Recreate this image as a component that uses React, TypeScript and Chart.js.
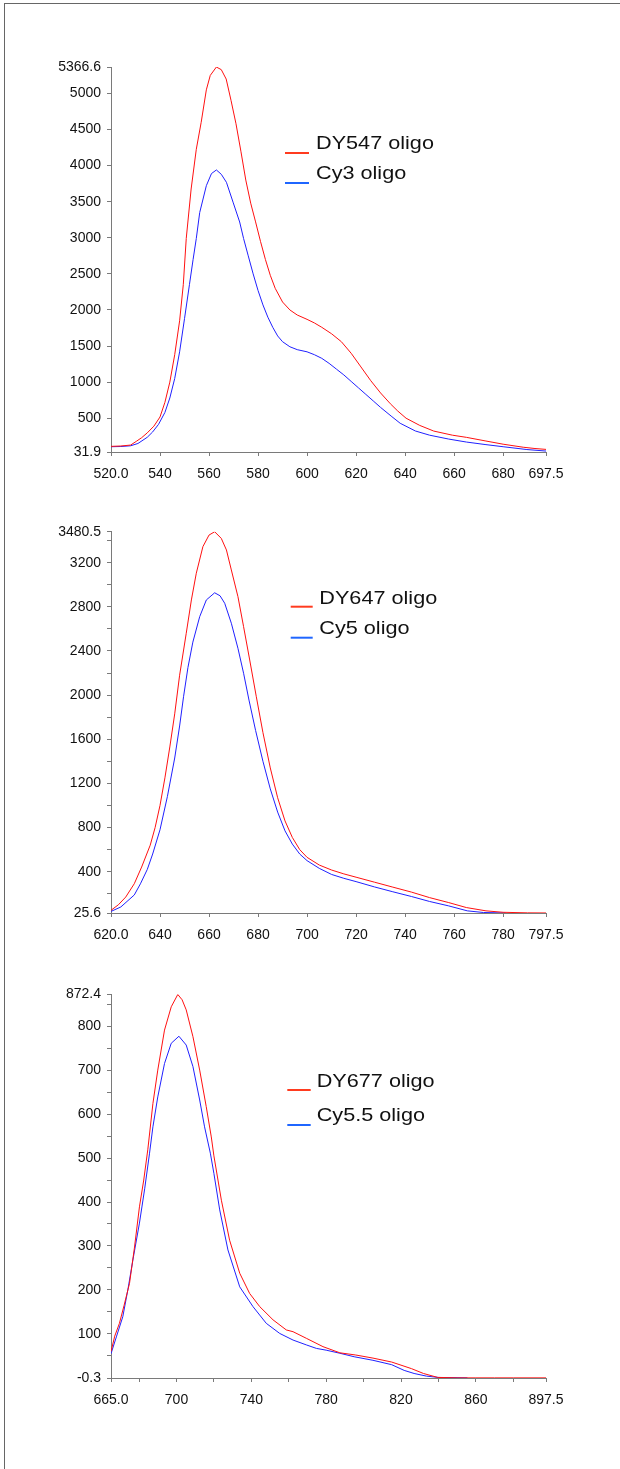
import React, { useEffect, useRef } from 'react';
import { Chart, registerables } from 'chart.js';

Chart.register(...registerables);

// ---------- Panel 1: DY547 / Cy3 ----------
const dy547Wavelengths = [520, 524, 528, 530.3, 532.5, 534.8, 537.5, 540, 542, 544, 546, 548, 549.5, 550.7, 552.7, 554.8, 556.8, 558.9, 560.5, 563, 565, 567, 569, 571, 573, 575, 577, 579, 581, 583, 585, 587, 590, 593, 596, 600, 603, 606, 610, 614, 618, 622, 626, 630, 634, 637, 640.4, 646, 651.7, 659.3, 665, 673, 680, 688.2, 693, 697.5];
const dy547Values = [110, 115, 128, 179, 230, 297, 390, 517, 720, 1000, 1380, 1850, 2350, 2990, 3676, 4226, 4600, 5050, 5250, 5366, 5330, 5200, 4900, 4580, 4200, 3800, 3480, 3220, 2950, 2700, 2480, 2300, 2110, 2000, 1930, 1870, 1820, 1760, 1670, 1560, 1400, 1210, 1020, 850, 700, 600, 500, 400, 322, 265, 235, 184, 140, 98, 80, 68];
const cy3Wavelengths = [520, 524, 528, 531, 534.8, 537, 539.4, 542, 544, 546, 548, 550, 552, 553.5, 554.8, 556.2, 558.9, 561, 563, 565, 567.1, 569.8, 572.5, 574.1, 576, 578, 580, 582, 584, 586, 588, 590, 593, 596, 600, 603, 606, 609, 612, 615, 618, 621, 624, 627, 630, 634.3, 638, 644.2, 650, 657.8, 665, 673, 680, 689.7, 697.5];
const cy3Values = [105, 108, 118, 150, 236, 310, 415, 580, 780, 1050, 1420, 1880, 2350, 2700, 2990, 3350, 3722, 3890, 3940, 3880, 3769, 3494, 3219, 2990, 2750, 2500, 2270, 2070, 1900, 1760, 1640, 1560, 1490, 1450, 1420, 1380, 1330, 1260, 1180, 1100, 1010, 920, 830, 740, 650, 530, 430, 323, 265, 211, 170, 134, 105, 66, 45];
const panel1XTicks = [520, 540, 560, 580, 600, 620, 640, 660, 680, 697.5];
const panel1XLabels = ['520.0', '540', '560', '580', '600', '620', '640', '660', '680', '697.5'];
const panel1YTicks = [31.9, 500, 1000, 1500, 2000, 2500, 3000, 3500, 4000, 4500, 5000, 5366.6];
const panel1YLabels = ['31.9', '500', '1000', '1500', '2000', '2500', '3000', '3500', '4000', '4500', '5000', '5366.6'];
const panel1Legend = ['DY547 oligo', 'Cy3 oligo'];

// ---------- Panel 2: DY647 / Cy5 ----------
const dy647Wavelengths = [620, 623, 626, 629.5, 632.5, 636, 638, 640, 642, 644, 646, 648, 650.7, 652.8, 654.8, 657.5, 660, 662.3, 665, 667.1, 669.1, 671.8, 674.1, 676.6, 679.3, 682, 685, 688, 691, 694, 697, 700, 705, 710, 715, 720, 727.5, 735, 742.6, 750, 757.8, 765, 773, 780, 790, 797.5];
const dy647Values = [50, 100, 170, 291, 442, 640, 800, 1000, 1250, 1530, 1830, 2180, 2560, 2862, 3104, 3345, 3450, 3480, 3420, 3315, 3134, 2892, 2620, 2318, 1985, 1660, 1340, 1070, 860, 710, 600, 530, 460, 415, 380, 350, 305, 260, 215, 165, 120, 75, 45, 32, 27, 26];
const cy5Wavelengths = [620, 624, 629.5, 632, 634.8, 637, 640, 643, 646, 648, 649.6, 651.4, 653.4, 656.2, 658.9, 662.3, 664.5, 666.4, 669.1, 671.8, 674.1, 676.3, 679, 682, 685, 688, 691, 694, 697, 700, 705, 710, 715, 720, 727.5, 735, 742.6, 750, 757.8, 765.4, 772, 781];
const cy5Values = [40, 80, 189, 290, 420, 560, 780, 1080, 1430, 1720, 1985, 2250, 2480, 2711, 2862, 2927, 2900, 2832, 2651, 2424, 2198, 1955, 1680, 1400, 1150, 940, 770, 650, 560, 500, 430, 375, 340, 310, 262, 218, 175, 130, 90, 45, 30, 26];
const panel2XTicks = [620, 640, 660, 680, 700, 720, 740, 760, 780, 797.5];
const panel2XLabels = ['620.0', '640', '660', '680', '700', '720', '740', '760', '780', '797.5'];
const panel2YTicks = [25.6, 200, 400, 600, 800, 1000, 1200, 1400, 1600, 1800, 2000, 2200, 2400, 2600, 2800, 3000, 3200, 3400, 3480.5];
const panel2YLabels = ['25.6', '', '400', '', '800', '', '1200', '', '1600', '', '2000', '', '2400', '', '2800', '', '3200', '', '3480.5'];
const panel2Legend = ['DY647 oligo', 'Cy5 oligo'];

// ---------- Panel 3: DY677 / Cy5.5 ----------
const dy677Wavelengths = [665, 667, 669.5, 672, 674.9, 677.5, 680.2, 682.5, 684.7, 687.4, 690, 693.6, 697.2, 700.7, 703, 705.2, 708.8, 712.4, 715.9, 718.6, 720, 724, 728.4, 733.8, 739.1, 744.5, 751.6, 758.7, 762.3, 769.4, 778.3, 787.3, 795.8, 805, 815, 825.6, 832, 839.6, 850, 860, 870, 880, 897.5];
const dy677Values = [60, 95, 124, 165, 215, 295, 389, 450, 520, 624, 700, 791, 844, 872, 860, 837, 776, 700, 617, 548, 505, 404, 313, 238, 192, 162, 132, 109, 105, 90, 71, 57, 52, 45, 36, 21, 10, 1, 0, 0, 0, 0, 0];
const cy55Wavelengths = [665, 668, 671.3, 674, 676.7, 680.2, 683, 685.6, 687.4, 690, 693.6, 697.2, 701.3, 705.2, 708.8, 712.4, 715, 718.1, 720, 723.1, 727.5, 733.8, 740.9, 748, 755.2, 762.3, 769.4, 774.8, 780, 787.3, 795, 805, 815, 821.7, 827, 833.6, 840, 855.5];
const cy55Values = [55, 95, 139, 200, 268, 352, 430, 511, 571, 639, 715, 761, 777, 757, 708, 632, 571, 511, 465, 382, 291, 207, 162, 124, 101, 86, 75, 67, 63, 56, 48, 40, 30, 17, 10, 4, 1, 0];
const panel3XTicks = [665, 680, 700, 720, 740, 760, 780, 800, 820, 840, 860, 880, 897.5];
const panel3XLabels = ['665.0', '', '700', '', '740', '', '780', '', '820', '', '860', '', '897.5'];
const panel3YTicks = [-0.3, 50, 100, 150, 200, 250, 300, 350, 400, 450, 500, 550, 600, 650, 700, 750, 800, 850, 872.4];
const panel3YLabels = ['-0.3', '', '100', '', '200', '', '300', '', '400', '', '500', '', '600', '', '700', '', '800', '', '872.4'];
const panel3Legend = ['DY677 oligo', 'Cy5.5 oligo'];

const RED = '#ff1010';
const BLUE = '#2020ff';
const LEGEND_RED = '#ff3b1f';
const LEGEND_BLUE = '#1f66ff';
const AXIS_COLOR = '#7a7a7a';
const FONT = "'Liberation Sans', Arial, sans-serif";

type Series = { wl: number[]; vals: number[]; color: string };
type LegendGeom = { x1: number; x2: number; textX: number; lineY: number[]; baseY: number[] };

type PanelProps = {
  top: number;
  height: number;
  padTop: number;
  padBottom: number;
  xTicks: number[];
  xLabels: string[];
  yTicks: number[];
  yLabels: string[];
  series: Series[];
  legendLabels: string[];
  legend: LegendGeom;
};

const toPoints = (wl: number[], vals: number[]) => wl.map((x, i) => ({ x, y: vals[i] }));

function Panel(props: PanelProps) {
  const ref = useRef<HTMLCanvasElement | null>(null);
  useEffect(() => {
    const canvas = ref.current;
    if (!canvas) return;
    const { xTicks, xLabels, yTicks, yLabels, series, legendLabels, legend, top } = props;
    const legendPlugin = {
      id: 'customLegend',
      afterDraw(chart: any) {
        const ctx = chart.ctx;
        const colors = [LEGEND_RED, LEGEND_BLUE];
        ctx.save();
        legendLabels.forEach((label, i) => {
          ctx.strokeStyle = colors[i];
          ctx.lineWidth = 2;
          ctx.beginPath();
          ctx.moveTo(legend.x1, legend.lineY[i] - top);
          ctx.lineTo(legend.x2, legend.lineY[i] - top);
          ctx.stroke();
          ctx.save();
          ctx.translate(legend.textX, legend.baseY[i] - top);
          ctx.scale(1.17, 1);
          ctx.font = `18.5px ${FONT}`;
          ctx.fillStyle = '#111';
          ctx.textBaseline = 'alphabetic';
          ctx.textAlign = 'left';
          ctx.fillText(label, 0, 0);
          ctx.restore();
        });
        ctx.restore();
      },
    };
    const tickFont = { family: FONT, size: 14 };
    const chart = new Chart(canvas, {
      type: 'line',
      data: {
        datasets: series.map((s, i) => ({
          label: legendLabels[i],
          data: toPoints(s.wl, s.vals),
          borderColor: s.color,
          borderWidth: 1,
          pointRadius: 0,
          tension: 0,
          fill: false,
        })),
      },
      options: {
        responsive: false,
        animation: false,
        events: [],
        layout: { padding: { left: 0, right: 620 - 546, top: props.padTop, bottom: props.padBottom } },
        plugins: { legend: { display: false }, tooltip: { enabled: false } },
        scales: {
          x: {
            type: 'linear',
            min: xTicks[0],
            max: xTicks[xTicks.length - 1],
            afterBuildTicks: (scale: any) => {
              scale.ticks = xTicks.map((v) => ({ value: v }));
            },
            afterFit: (scale: any) => {
              scale.height = 32;
            },
            ticks: {
              autoSkip: false,
              maxRotation: 0,
              padding: 10,
              color: '#111',
              font: tickFont,
              callback: (_v: any, i: number) => xLabels[i],
            },
            grid: { drawOnChartArea: false, drawTicks: true, tickLength: 4, color: AXIS_COLOR },
            border: { display: true, color: AXIS_COLOR, width: 1 },
          },
          y: {
            type: 'linear',
            min: yTicks[0],
            max: yTicks[yTicks.length - 1],
            afterBuildTicks: (scale: any) => {
              scale.ticks = yTicks.map((v) => ({ value: v }));
            },
            afterFit: (scale: any) => {
              scale.width = 111;
            },
            ticks: {
              autoSkip: false,
              padding: 6,
              color: '#111',
              font: tickFont,
              callback: (_v: any, i: number) => yLabels[i],
            },
            grid: { drawOnChartArea: false, drawTicks: true, tickLength: 4, color: AXIS_COLOR },
            border: { display: true, color: AXIS_COLOR, width: 1 },
          },
        },
      },
      plugins: [legendPlugin],
    } as any);
    return () => chart.destroy();
  }, []);
  return (
    <canvas
      ref={ref}
      width={620}
      height={props.height}
      style={{ position: 'absolute', left: 0, top: props.top, width: 620, height: props.height }}
    />
  );
}

export default function App() {
  return (
    <div
      style={{
        position: 'absolute',
        left: 0,
        top: 0,
        width: 620,
        height: 1469,
        overflow: 'hidden',
        background: '#fff',
      }}
    >
      <div
        style={{
          position: 'absolute',
          left: 4,
          top: 3,
          width: 700,
          height: 1600,
          borderTop: '1px solid #666',
          borderLeft: '1px solid #666',
        }}
      />
      <Panel
        top={0}
        height={500}
        padTop={67}
        padBottom={16}
        xTicks={panel1XTicks}
        xLabels={panel1XLabels}
        yTicks={panel1YTicks}
        yLabels={panel1YLabels}
        series={[
          { wl: dy547Wavelengths, vals: dy547Values, color: RED },
          { wl: cy3Wavelengths, vals: cy3Values, color: BLUE },
        ]}
        legendLabels={panel1Legend}
        legend={{ x1: 285, x2: 309, textX: 316, lineY: [153, 183], baseY: [149.3, 179.3] }}
      />
      <Panel
        top={490}
        height={470}
        padTop={41.7}
        padBottom={15}
        xTicks={panel2XTicks}
        xLabels={panel2XLabels}
        yTicks={panel2YTicks}
        yLabels={panel2YLabels}
        series={[
          { wl: dy647Wavelengths, vals: dy647Values, color: RED },
          { wl: cy5Wavelengths, vals: cy5Values, color: BLUE },
        ]}
        legendLabels={panel2Legend}
        legend={{ x1: 290.7, x2: 312.7, textX: 319.3, lineY: [606.7, 637.7], baseY: [604, 634] }}
      />
      <Panel
        top={960}
        height={509}
        padTop={34.3}
        padBottom={59}
        xTicks={panel3XTicks}
        xLabels={panel3XLabels}
        yTicks={panel3YTicks}
        yLabels={panel3YLabels}
        series={[
          { wl: dy677Wavelengths, vals: dy677Values, color: RED },
          { wl: cy55Wavelengths, vals: cy55Values, color: BLUE },
        ]}
        legendLabels={panel3Legend}
        legend={{ x1: 287.3, x2: 310.7, textX: 316.7, lineY: [1090, 1125], baseY: [1087.3, 1121] }}
      />
    </div>
  );
}
